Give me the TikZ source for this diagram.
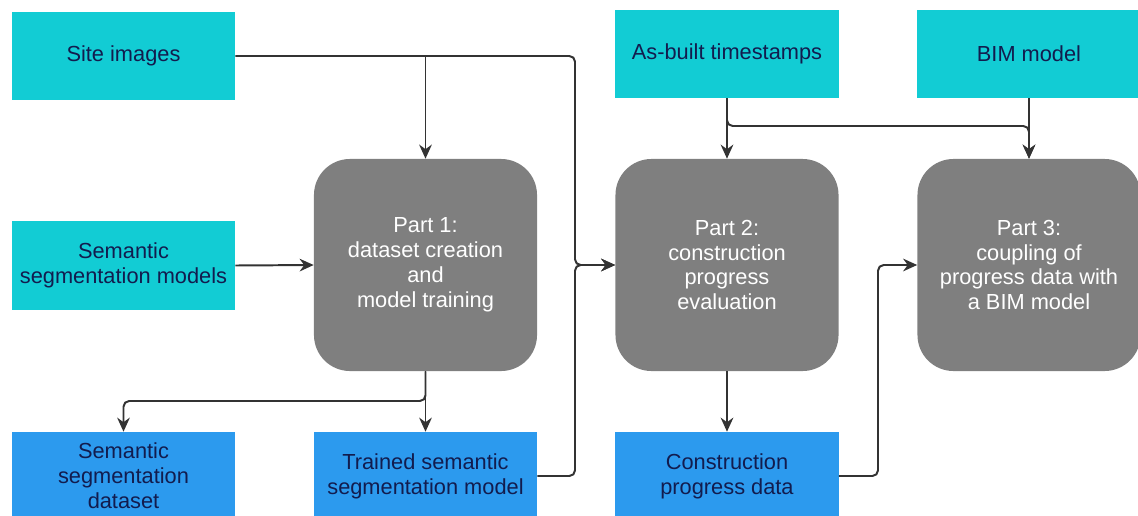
\documentclass[tikz,border=0pt]{standalone}
\usepackage{fontspec}
\setmainfont{Liberation Sans}
\usetikzlibrary{arrows.meta,positioning}

\definecolor{inputcyan}{RGB}{18,204,212}
\definecolor{outputblue}{RGB}{44,154,238}
\definecolor{partgray}{RGB}{127,127,127}
\definecolor{boxtext}{RGB}{18,28,78}
\definecolor{linegray}{RGB}{51,51,51}

\begin{document}
\begin{tikzpicture}[x=0.025cm,y=-0.025cm,
    inbox/.style={fill=inputcyan,text=boxtext,minimum width=5.575cm,minimum height=2.2cm,inner sep=0pt,align=center},
    outbox/.style={fill=outputblue,text=boxtext,minimum width=5.575cm,minimum height=2.2cm,inner sep=0pt,align=center},
    partbox/.style={fill=partgray,text=white,rounded corners=0.9cm,minimum width=5.575cm,minimum height=5.3cm,inner sep=0pt,align=center},
    arr/.style={draw=linegray,line width=1.4pt,rounded corners=4pt,-{Stealth[length=10pt,width=9pt]}}]
    \fontsize{15.5}{17.7}\selectfont
    \useasboundingbox (0,0) rectangle (1138,515);

    % Inputs
    \node[inbox] (site) at (123.5,56) {Site images};
    \node[inbox] (segmodels) at (123.5,265.5) {Semantic\\segmentation models};
    \node[inbox] (asbuilt) at (727,54) {As-built timestamps};
    \node[inbox] (bim) at (1029,54) {BIM model};

    % Parts
    \node[partbox] (part1) at (425.5,265) {Part 1:\\dataset creation\\and\\model training};
    \node[partbox] (part2) at (727,265) {Part 2:\\construction\\progress\\evaluation};
    \node[partbox] (part3) at (1029,265) {Part 3:\\coupling of\\progress data with\\a BIM model};

    % Outputs
    \node[outbox] (segdata) at (123.5,476) {Semantic\\segmentation\\dataset};
    \node[outbox] (trained) at (425.5,476) {Trained semantic\\segmentation model};
    \node[outbox] (progdata) at (727,476) {Construction\\progress data};

    % Junctions
    \coordinate (jsite) at (575,265);
    \coordinate (jpart1) at (425.5,401);
    \coordinate (jasbuilt) at (727,126);
    \coordinate (jprog) at (878,265);

    % Connectors
    \draw[arr] (site.east) -| (jsite) -- (part2.west);
    \draw[arr] (site.east -| part1.north) -- (part1.north);
    \draw[arr] (segmodels.east) -- (part1.west);
    \draw[arr] (trained.east) -| (jsite) -- (part2.west);
    \draw[arr] (part1.south) -- (jpart1) -| (segdata.north);
    \draw[arr] (part1.south) -- (trained.north);
    \draw[arr] (asbuilt.south) -- (part2.north);
    \draw[arr] (asbuilt.south) -- (jasbuilt) -| (part3.north);
    \draw[arr] (bim.south) -- (part3.north);
    \draw[arr] (part2.south) -- (progdata.north);
    \draw[arr] (progdata.east) -| (jprog) -- (part3.west);
\end{tikzpicture}
\end{document}
